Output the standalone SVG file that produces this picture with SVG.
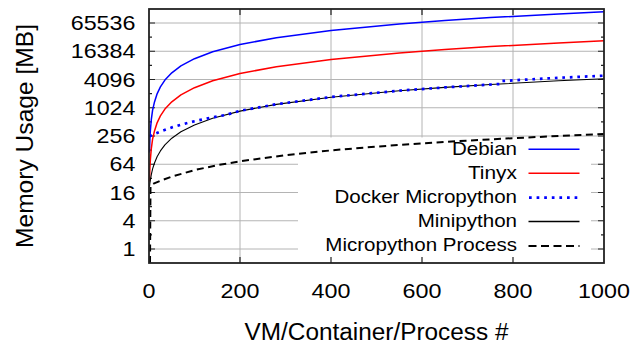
<svg xmlns="http://www.w3.org/2000/svg" width="644" height="347" viewBox="0 0 644 347">
<style>
text{font-family:"Liberation Sans",Arial,Helvetica,sans-serif;fill:#000}
.tick{font-size:21px}
.leg{font-size:18.5px}
.grid{stroke:#b4b4b4;stroke-width:1;fill:none}
.tk{stroke:#222;stroke-width:1.2;fill:none}
.c{fill:none;stroke-linejoin:round}
</style>
<rect width="644" height="347" fill="#fff"/>
<g id="grid" class="grid">
<path d="M149 249H604M149 220.75H604M149 192.5H604M149 164.25H604M149 136H604M149 107.75H604M149 79.5H604M149 51.25H604M149 23H604"/>
<path d="M240 9V263M331 9V263M422 9V263M513 9V263"/>
</g>
<rect id="legend-bg" x="298" y="137.5" width="293" height="124.5" fill="#fff"/>
<g id="ticks" class="tk">
<path d="M149 249h6M149 220.75h6M149 192.5h6M149 164.25h6M149 136h6M149 107.75h6M149 79.5h6M149 51.25h6M149 23h6"/>
<path d="M149 234.875h3M149 206.625h3M149 178.375h3M149 150.125h3M149 121.875h3M149 93.625h3M149 65.375h3M149 37.125h3"/>
<path d="M604 249h-6M604 220.75h-6M604 192.5h-6M604 164.25h-6M604 136h-6M604 107.75h-6M604 79.5h-6M604 51.25h-6M604 23h-6"/>
<path d="M604 234.875h-3M604 206.625h-3M604 178.375h-3M604 150.125h-3M604 121.875h-3M604 93.625h-3M604 65.375h-3M604 37.125h-3"/>
<path d="M240 263v-6M331 263v-6M422 263v-6M513 263v-6M240 9v6M331 9v6M422 9v6M513 9v6"/>
</g>
<g id="curves">
<polyline id="debian" class="c" stroke="#0000ff" stroke-width="1.5" points="149.5,152.5 149.9,138.4 150.4,130.1 151.3,119.7 152.6,110.1 154.5,101.9 157.2,93.6 160.4,86.9 164.9,80.1 171.8,72.8 180.9,65.9 194.5,58.7 212.7,51.8 240,44.5 276.4,37.7 331,30.4 399.3,23.9 444.8,20.5 490.3,17.6 558.5,13.9 604,11.7"/>
<polyline id="tinyx" class="c" stroke="#ff0000" stroke-width="1.5" points="149.5,181.5 149.9,167.4 150.4,159.1 151.3,148.7 152.6,139.1 154.5,130.9 157.2,122.6 160.4,115.9 164.9,109.1 171.8,101.8 180.9,94.9 194.5,87.7 212.7,80.8 240,73.5 276.4,66.7 331,59.4 399.3,52.9 444.8,49.5 490.3,46.6 558.5,42.9 604,40.7"/>
<polyline id="minipython" class="c" stroke="#000" stroke-width="1.1" points="149.5,186.7 149.9,183.0 150.4,179.9 151.3,174.7 152.6,168.9 154.5,163.0 157.2,156.5 160.4,150.9 164.9,144.9 171.8,138.2 180.9,131.8 194.5,124.9 212.7,118.2 240,111.1 276.4,104.4 331,97.2 399.3,90.8 444.8,87.4 490.3,84.5 558.5,80.8 604,78.7"/>
<polyline id="docker" class="c" stroke="#0000ff" stroke-width="2.7" stroke-dasharray="2.7 4.8" points="149.5,136.3 149.9,136.0 151.3,135.4 154.5,133.9 160.4,131.5 171.8,127.4 180.9,124.7 194.5,121.2 212.7,117.3 226.4,114.8 240,110.8 276.4,104.2 331,97.0 399.3,90.7 444.8,87.4 499.8,84.0 501.6,81.0 558.5,77.8 604,75.7"/>
<polyline id="process" class="c" stroke="#000" stroke-width="2" stroke-dasharray="7 4.5" points="150,263 150.5,185.8 151.2,185.3 153.6,183.7 160.4,180.7 171.8,176.6 194.5,170.1 217.3,165.2 240,161.3 285.5,155.2 331,150.4 376.5,146.6 422,143.4 467.5,140.6 513,138.2 558.5,136 604,134"/>
</g>
<g id="legend">
<text class="leg" x="451.9" y="154.8" textLength="65.1" lengthAdjust="spacingAndGlyphs">Debian</text>
<text class="leg" x="467.9" y="178.8" textLength="49.1" lengthAdjust="spacingAndGlyphs">Tinyx</text>
<text class="leg" x="334.4" y="202.8" textLength="182.6" lengthAdjust="spacingAndGlyphs">Docker Micropython</text>
<text class="leg" x="417.7" y="226.8" textLength="99.3" lengthAdjust="spacingAndGlyphs">Minipython</text>
<text class="leg" x="325.3" y="250.8" textLength="191.7" lengthAdjust="spacingAndGlyphs">Micropython Process</text>
<path d="M528.5 149.3H579.5" stroke="#0000ff" stroke-width="1.5"/>
<path d="M528.5 173.3H579.5" stroke="#ff0000" stroke-width="1.5"/>
<path d="M529 197.7H579.5" stroke="#0000ff" stroke-width="2.7" stroke-dasharray="2.7 4.9"/>
<path d="M528.5 221.5H579.5" stroke="#000" stroke-width="1.3"/>
<path d="M528.5 246H579.5" stroke="#000" stroke-width="2" stroke-dasharray="8 4.5"/>
</g>
<rect id="border" x="149" y="9" width="455" height="254" fill="none" stroke="#222" stroke-width="1.8"/>
<g id="ylabels" class="tick">
<text x="70.7" y="30" textLength="64.8" lengthAdjust="spacingAndGlyphs">65536</text>
<text x="70.7" y="58.3" textLength="64.8" lengthAdjust="spacingAndGlyphs">16384</text>
<text x="83.7" y="86.5" textLength="51.8" lengthAdjust="spacingAndGlyphs">4096</text>
<text x="83.7" y="114.8" textLength="51.8" lengthAdjust="spacingAndGlyphs">1024</text>
<text x="96.6" y="143" textLength="38.9" lengthAdjust="spacingAndGlyphs">256</text>
<text x="109.6" y="171.3" textLength="25.9" lengthAdjust="spacingAndGlyphs">64</text>
<text x="109.6" y="199.5" textLength="25.9" lengthAdjust="spacingAndGlyphs">16</text>
<text x="122.5" y="227.8" textLength="13" lengthAdjust="spacingAndGlyphs">4</text>
<text x="122.5" y="255.8" textLength="13" lengthAdjust="spacingAndGlyphs">1</text>
</g>
<g id="xlabels" class="tick">
<text x="142.5" y="298" textLength="13" lengthAdjust="spacingAndGlyphs">0</text>
<text x="220.5" y="298" textLength="38.9" lengthAdjust="spacingAndGlyphs">200</text>
<text x="311.5" y="298" textLength="38.9" lengthAdjust="spacingAndGlyphs">400</text>
<text x="402.5" y="298" textLength="38.9" lengthAdjust="spacingAndGlyphs">600</text>
<text x="493.5" y="298" textLength="38.9" lengthAdjust="spacingAndGlyphs">800</text>
<text x="578.1" y="298" textLength="51.8" lengthAdjust="spacingAndGlyphs">1000</text>
</g>
<text id="xtitle" x="376.5" y="340" font-size="23" text-anchor="middle" textLength="264" lengthAdjust="spacingAndGlyphs">VM/Container/Process #</text>
<text id="ytitle" transform="translate(33,136) rotate(-90)" x="0" y="0" font-size="24" text-anchor="middle" textLength="224" lengthAdjust="spacingAndGlyphs">Memory Usage [MB]</text>
</svg>
